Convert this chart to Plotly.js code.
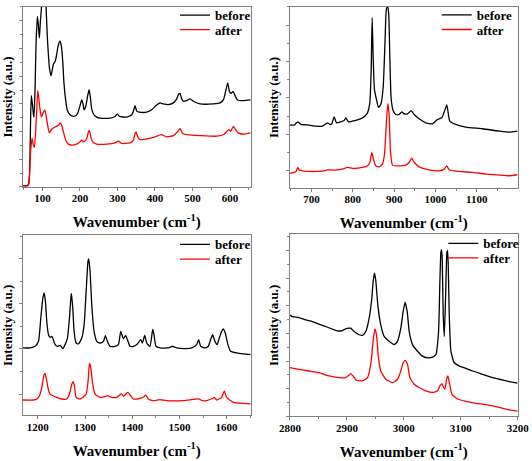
<!DOCTYPE html>
<html>
<head>
<meta charset="utf-8">
<script src="https://cdn.plot.ly/plotly-3.0.1.min.js"></script>
<style>html,body{margin:0;padding:0;background:#fff;}#chart{width:532px;height:461px;}</style>
</head>
<body>
<div id="chart"></div>
<script>
// ---- Panel 1 (50-650 cm-1) ----
var wn1Before = [47.6,58.3,62.7,65.4,67.1,68.9,70.7,73.4,76.0,77.8,80.5,83.1,86.7,89.3,92.0,94.7,97.3,100.0,104.4,108.0,109.8,113.3,116.0,118.7,123.1,129.3,134.6,138.1,141.7,147.1,150.6,154.2,157.7,162.2,166.6,173.7,184.4,193.3,200.4,204.8,208.3,211.0,215.4,219.9,224.3,227.9,231.4,237.7,244.8,253.6,280.3,293.6,299.8,305.2,324.7,338.0,342.5,346.9,351.3,358.4,378.0,391.3,402.8,413.5,422.4,435.7,449.0,457.9,463.2,466.8,471.2,475.7,484.5,493.4,502.3,520.1,555.6,573.4,582.2,587.6,593.8,598.2,602.7,608.0,613.3,619.6,635.5,655.1];
var int1Before = [4,4,7,32,102,222,277,252,222,212,302,432,517,492,452,502,540,600,620,590,548,452,402,362,337,372,382,402,427,442,427,382,312,262,232,219,214,222,247,264,252,234,244,272,295,272,237,219,212,209,209,214,222,214,212,219,230,247,230,227,227,234,247,255,252,250,255,267,282,284,267,260,262,267,260,252,252,255,264,287,316,290,284,290,277,264,262,264];
var wn1After = [47.6,61.8,64.5,66.3,68.9,72.5,76.0,78.7,82.2,84.9,87.6,90.2,92.9,97.3,102.7,106.2,109.8,113.3,118.7,124.9,133.7,142.6,147.1,150.6,156.0,162.2,169.3,178.2,191.5,200.4,204.8,211.0,218.1,222.6,225.2,228.8,234.1,244.8,271.4,293.6,302.5,311.4,333.6,342.5,346.0,349.6,354.0,360.2,382.4,400.2,416.2,431.3,449.0,459.7,466.8,473.9,484.5,520.1,564.5,584.0,596.4,601.8,608.9,615.1,622.2,635.5,655.1];
var int1After = [4,4,12,52,112,147,127,120,172,232,292,272,242,212,227,234,217,192,164,175,182,187,194,190,167,142,130,127,130,137,142,137,147,167,172,152,137,130,130,134,139,132,134,142,159,167,152,144,147,152,159,152,156,167,177,162,159,156,154,160,174,169,184,174,164,160,164];

// ---- Panel 2 (650-1200 cm-1) ----
var wn2Before = [647.6,658.1,663.7,667.7,674.2,694.4,710.5,726.6,734.7,739.5,744.4,749.2,754.8,760.5,771.0,779.0,783.1,789.5,799.2,815.3,827.4,835.5,841.1,844.4,846.8,849.2,852.4,857.3,862.1,867.7,873.4,878.2,881.5,884.7,887.1,889.5,892.7,897.6,904.0,912.1,918.5,924.2,932.3,941.1,948.4,960.5,976.6,992.7,1004.8,1015.3,1021.8,1027.4,1031.4,1034.7,1049.2,1073.4,1113.7,1154.0,1178.2,1198.4];
var int2Before = [190,190,197,200,192,190,187,187,194,197,192,194,215,197,200,204,212,200,202,207,215,227,257,352,515,402,297,267,244,252,302,452,542,547,522,402,272,234,222,222,230,224,224,234,222,209,197,194,207,212,232,251,222,202,192,184,179,172,169,172];
var wn2After = [647.6,662.1,666.9,670.2,678.2,694.4,710.5,730.6,738.7,750.8,775.0,787.1,799.2,823.4,835.5,841.1,846.0,850.0,855.6,863.7,871.8,876.6,881.5,884.7,887.9,891.1,896.0,908.1,928.2,936.3,942.7,949.2,960.5,984.7,1008.9,1021.0,1027.4,1033.1,1057.3,1089.5,1121.8,1154.0,1178.2,1198.4];
var int2After = [44,49,62,54,52,50,50,52,55,54,57,62,59,62,67,77,107,87,67,64,72,102,202,255,222,112,69,67,69,77,90,77,64,55,52,57,67,55,50,47,42,39,37,40];

// ---- Panel 3 (1170-1650 cm-1) ----
var wn3Before = [1168.3,1183.8,1194.4,1201.4,1206.3,1210.6,1213.4,1216.2,1219.0,1222.6,1226.1,1229.6,1231.7,1236.7,1241.6,1247.3,1252.9,1257.8,1262.8,1267.0,1270.5,1271.3,1274.1,1276.9,1281.1,1286.1,1293.1,1298.1,1302.3,1306.5,1307.9,1310.8,1314.3,1319.2,1324.9,1331.9,1339.0,1343.2,1347.4,1353.1,1363.7,1370.7,1375.7,1381.3,1386.2,1389.8,1395.4,1402.5,1410.9,1418.0,1421.5,1426.5,1430.7,1437.7,1443.4,1446.2,1450.4,1458.9,1473.0,1480.1,1485.0,1494.2,1515.3,1525.9,1536.5,1540.7,1545.0,1554.1,1561.2,1566.1,1570.4,1575.3,1580.2,1584.5,1589.4,1592.9,1597.2,1602.8,1608.5,1621.2,1635.3,1650.8];
var int3Before = [205,205,210,225,295,355,372,345,285,245,237,240,235,215,210,213,203,215,235,295,365,370,325,255,220,217,235,275,375,470,475,435,335,255,225,220,225,242,225,210,210,215,255,233,243,230,210,210,217,230,220,243,220,210,261,245,210,205,205,207,210,205,203,205,215,230,210,205,210,230,245,225,215,235,255,263,250,215,195,190,187,185];
var wn3After = [1168.3,1190.8,1197.9,1203.5,1208.5,1213.4,1215.5,1217.6,1222.6,1226.1,1231.7,1240.2,1250.8,1261.4,1267.0,1272.0,1274.8,1277.6,1281.1,1289.6,1302.3,1306.5,1309.3,1310.1,1312.2,1316.4,1321.3,1331.9,1342.5,1347.4,1356.6,1367.2,1375.7,1377.8,1381.3,1390.5,1396.8,1402.5,1416.6,1425.0,1428.6,1434.2,1444.8,1458.9,1473.0,1508.3,1542.2,1545.0,1557.7,1571.8,1573.9,1578.8,1589.4,1595.1,1600.0,1614.1,1635.3,1650.8];
var int3After = [47,47,50,60,85,125,127,115,77,65,60,55,50,50,65,95,103,90,55,50,65,105,155,157,145,95,65,55,57,60,55,55,65,65,58,70,60,50,52,57,62,50,45,48,45,45,50,47,45,53,55,47,55,74,55,40,37,35];

// ---- Panel 4 (2800-3200 cm-1) ----
var wn4Before = [2800.0,2804.1,2815.8,2827.6,2839.3,2851.0,2862.8,2874.5,2883.3,2890.9,2897.9,2903.8,2906.7,2912.6,2921.4,2927.3,2933.1,2939.0,2943.7,2946.0,2948.4,2950.7,2954.3,2959.5,2965.4,2974.2,2983.0,2988.9,2994.7,2998.8,3002.3,3005.9,3009.4,3015.2,3024.0,3032.8,3041.6,3050.4,3056.3,3061.0,3063.3,3065.1,3066.3,3067.4,3069.2,3071.0,3073.3,3075.7,3076.8,3078.0,3079.8,3082.7,3088.6,3097.4,3109.1,3120.8,3138.4,3156.0,3167.7,3185.3,3200.0];
var int4Before = [308,303,300,293,288,280,273,265,260,260,266,268,268,258,248,246,258,298,358,408,435,413,338,278,243,228,218,228,268,318,346,318,258,218,198,183,178,180,188,258,408,498,506,478,308,243,358,498,503,458,308,198,163,153,146,138,128,118,113,106,101];
var wn4After = [2800.0,2815.8,2833.4,2851.0,2868.6,2886.2,2897.9,2903.8,2906.7,2910.9,2916.7,2927.3,2936.1,2941.9,2946.0,2949.0,2951.9,2955.4,2959.5,2968.3,2980.1,2988.9,2994.7,2998.8,3002.3,3006.5,3010.6,3018.2,3027.0,3038.7,3050.4,3059.2,3063.3,3066.9,3069.8,3072.1,3075.1,3077.4,3080.4,3084.5,3094.4,3109.1,3126.7,3144.3,3167.7,3185.3,3200.0];
var int4After = [148,143,138,133,123,118,118,126,130,123,110,108,118,158,228,266,248,178,138,113,103,113,138,163,170,158,118,98,88,78,73,78,93,100,88,83,113,123,98,68,53,46,40,36,28,20,16];

var seriesNames = ['before', 'after'];
var seriesColors = ['#000000', '#ff0000'];
var xTitle = 'Wavenumber (cm<sup>-1</sup>)';
var yTitle = 'Intensity (a.u.)';

var FONT = 'Liberation Serif';
var AX = '#808080';

// each legend entry gets its own legend box so rows can sit as close as in the reference
function trace(x, y, i, n) {
  var s = n === 1 ? '' : String(n);
  var legId = 'legend' + (i === 0 ? s : String(n + 4));
  return {
    x: x, y: y, type: 'scatter', mode: 'lines', name: seriesNames[i],
    xaxis: 'x' + s, yaxis: 'y' + s, legend: legId,
    line: {color: seriesColors[i], width: 1.3, shape: 'spline', smoothing: 0.5}
  };
}

var data = [
  trace(wn1Before, int1Before, 0, 1), trace(wn1After, int1After, 1, 1),
  trace(wn2Before, int2Before, 0, 2), trace(wn2After, int2After, 1, 2),
  trace(wn3Before, int3Before, 0, 3), trace(wn3After, int3After, 1, 3),
  trace(wn4Before, int4Before, 0, 4), trace(wn4After, int4After, 1, 4)
];

function xax(domain, range, anchor) {
  return {
    domain: domain, range: range, anchor: anchor,
    showgrid: false, zeroline: false, showline: true, mirror: true,
    linecolor: AX, linewidth: 1, ticks: 'outside', ticklen: 3, tickcolor: AX,
    tick0: 0, dtick: 100, ticklabelstandoff: -2,
    tickfont: {family: FONT, size: 11, weight: 'bold', color: '#000'},
    minor: {ticks: 'outside', ticklen: 2, dtick: 50, tick0: 0, tickcolor: AX, showgrid: false},
    title: {text: xTitle, font: {family: FONT, size: 15, weight: 'bold', color: '#000'}, standoff: 13}
  };
}
function yax(domain, range, anchor, t0, dt) {
  return {
    domain: domain, range: range, anchor: anchor,
    showgrid: false, zeroline: false, showline: true, mirror: true,
    linecolor: AX, linewidth: 1, ticks: 'outside', ticklen: 3, tickcolor: AX,
    showticklabels: false, tick0: t0, dtick: dt,
    minor: {ticks: 'outside', ticklen: 2, dtick: dt / 2, tick0: t0, tickcolor: AX, showgrid: false},
    title: {text: yTitle, font: {family: FONT, size: 13, weight: 'bold', color: '#000'}, standoff: 4}
  };
}
function leg(x, y) {
  return {x: x, y: y, xanchor: 'left', yanchor: 'middle', bgcolor: 'rgba(0,0,0,0)',
    font: {family: FONT, size: 13, weight: 'bold', color: '#000'}, tracegroupgap: 0};
}

var layout = {
  width: 532, height: 461,
  margin: {l: 0, r: 0, t: 0, b: 0},
  paper_bgcolor: '#fff', plot_bgcolor: '#fff',
  font: {family: FONT, color: '#000'},
  showlegend: true,
  xaxis:  xax([0.0427, 0.4712], [47.6, 655], 'y'),
  yaxis:  yax([0.6009, 0.9957], [0, 546], 'x', 0, 84),
  xaxis2: xax([0.5451, 0.9731], [648, 1199], 'y2'),
  yaxis2: yax([0.5987, 0.9957], [0, 547], 'x2', 52, 110),
  xaxis3: xax([0.0427, 0.4712], [1168, 1651], 'y3'),
  yaxis3: yax([0.0998, 0.4952], [0, 547], 'x3', 65, 137),
  xaxis4: xax([0.5451, 0.9731], [2800, 3200], 'y4'),
  yaxis4: yax([0.0976, 0.4974], [0, 553], 'x4', 0, 84),
  legend:  leg(0.3290, 0.9777),
  legend5: leg(0.3290, 0.9458),
  legend2: leg(0.8209, 0.9790),
  legend6: leg(0.8209, 0.9462),
  legend3: leg(0.3290, 0.4751),
  legend7: leg(0.3290, 0.4425),
  legend4: leg(0.8333, 0.4772),
  legend8: leg(0.8333, 0.4453)
};

Plotly.newPlot('chart', data, layout, {staticPlot: true, displayModeBar: false});
</script>
</body>
</html>
